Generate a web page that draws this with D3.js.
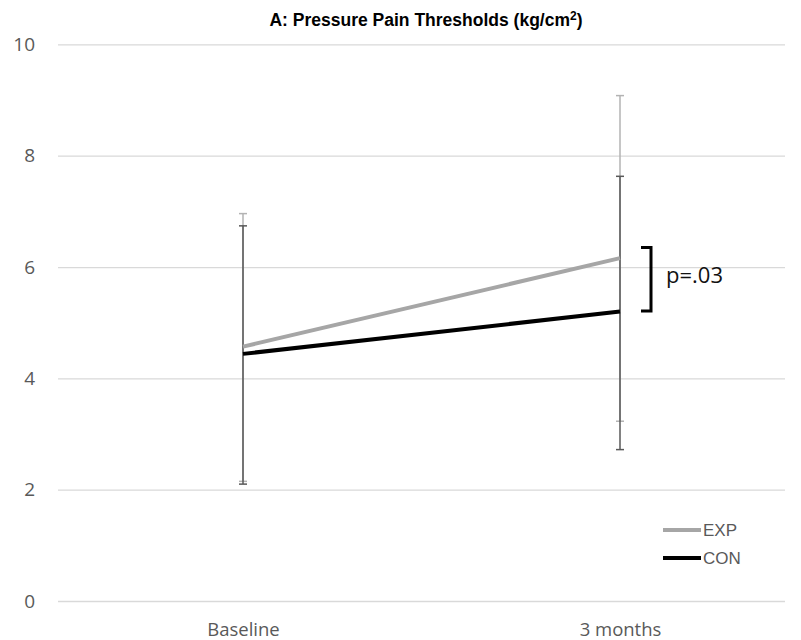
<!DOCTYPE html>
<html>
<head>
<meta charset="utf-8">
<script src="https://cdn.jsdelivr.net/npm/d3@7"></script>
<style>
  body { margin: 0; background: #fff; }
  svg { display: block; }
</style>
</head>
<body>
<div id="chart"></div>
<script>
const categories = ["Baseline", "3 months"];
const seriesNames = ["EXP", "CON"];
const expMean = [4.57, 6.16];
const expUpper = [6.96, 9.08];
const expLower = [2.15, 3.23];
const conMean = [4.44, 5.20];
const conUpper = [6.74, 7.63];
const conLower = [2.10, 2.72];
const yTicks = [0, 2, 4, 6, 8, 10];
const bracketRange = [5.21, 6.35];
const pLabel = "p=.03";

const width = 801, height = 640;

const svg = d3.select("#chart").append("svg")
    .attr("width", width)
    .attr("height", height);

const xScale = d3.scalePoint().domain(categories).range([243, 620]);
const yScale = d3.scaleLinear().domain([0, 10]).range([601, 44.4]);

// gridlines + y labels
const yAxis = d3.axisLeft(yScale)
    .tickValues(yTicks)
    .tickSize(-727)
    .tickPadding(23);

const gy = svg.append("g")
    .attr("transform", "translate(58,0)")
    .call(yAxis);
gy.select(".domain").remove();
gy.selectAll(".tick line").attr("stroke", "#d9d9d9").attr("stroke-width", 1.3);
gy.selectAll(".tick text")
    .attr("fill", "#595959")
    .style("font-family", "'Open Sans', sans-serif")
    .style("font-size", "19px");

// x labels
const xAxis = d3.axisBottom(xScale).tickSize(0).tickPadding(0);
const gx = svg.append("g")
    .attr("transform", "translate(0,618)")
    .call(xAxis);
gx.select(".domain").remove();
gx.selectAll(".tick text")
    .attr("fill", "#595959")
    .attr("dy", "0")
    .attr("y", 18)
    .style("font-family", "'Open Sans', sans-serif")
    .style("font-size", "18.5px");

const series = [
  { name: "EXP", mean: expMean, upper: expUpper, lower: expLower, line: "#a6a6a6", err: "#b3b3b3" },
  { name: "CON", mean: conMean, upper: conUpper, lower: conLower, line: "#000000", err: "#595959" }
];

// error bars
series.forEach(s => {
  const g = svg.append("g");
  categories.forEach((c, i) => {
    const x = xScale(c);
    g.append("line")
        .attr("x1", x).attr("x2", x)
        .attr("y1", yScale(s.upper[i])).attr("y2", yScale(s.lower[i]))
        .attr("stroke", s.err).attr("stroke-width", 1.5);
    [s.upper[i], s.lower[i]].forEach(v => {
      g.append("line")
          .attr("x1", x - 4).attr("x2", x + 4)
          .attr("y1", yScale(v)).attr("y2", yScale(v))
          .attr("stroke", s.err).attr("stroke-width", 1.5);
    });
  });
});

// mean lines
const line = d3.line()
    .x((d, i) => xScale(categories[i]))
    .y(d => yScale(d));

series.forEach(s => {
  svg.append("path")
      .datum(s.mean)
      .attr("fill", "none")
      .attr("stroke", s.line)
      .attr("stroke-width", 4)
      .attr("d", line);
});

// significance bracket
const bTop = yScale(bracketRange[1]), bBot = yScale(bracketRange[0]);
svg.append("path")
    .attr("d", `M641,${bTop}H651V${bBot}H641`)
    .attr("fill", "none")
    .attr("stroke", "#000")
    .attr("stroke-width", 3);
svg.append("text")
    .attr("x", 666)
    .attr("y", (bTop + bBot) / 2 + 4)
    .attr("fill", "#111")
    .style("font-family", "'Open Sans', sans-serif")
    .style("font-size", "22px")
    .text(pLabel);

// title
const title = svg.append("text")
    .attr("x", 426)
    .attr("y", 26)
    .attr("text-anchor", "middle")
    .attr("fill", "#000")
    .style("font-family", "'Liberation Sans', Arial, sans-serif")
    .style("font-size", "17.5px")
    .style("font-weight", "bold");
title.append("tspan").text("A: Pressure Pain Thresholds (kg/cm");
title.append("tspan").attr("dy", -6).style("font-size", "12px").text("2");
title.append("tspan").attr("dy", 6).text(")");

// legend
const legend = svg.append("g");
series.forEach((s, i) => {
  const y = 530 + i * 28;
  legend.append("line")
      .attr("x1", 663).attr("x2", 701)
      .attr("y1", y).attr("y2", y)
      .attr("stroke", s.line).attr("stroke-width", 4);
  legend.append("text")
      .attr("x", 703)
      .attr("y", y + 6)
      .attr("fill", "#595959")
      .style("font-family", "'Liberation Sans', Arial, sans-serif")
      .style("font-size", "17px")
      .text(seriesNames[i]);
});
</script>
</body>
</html>
